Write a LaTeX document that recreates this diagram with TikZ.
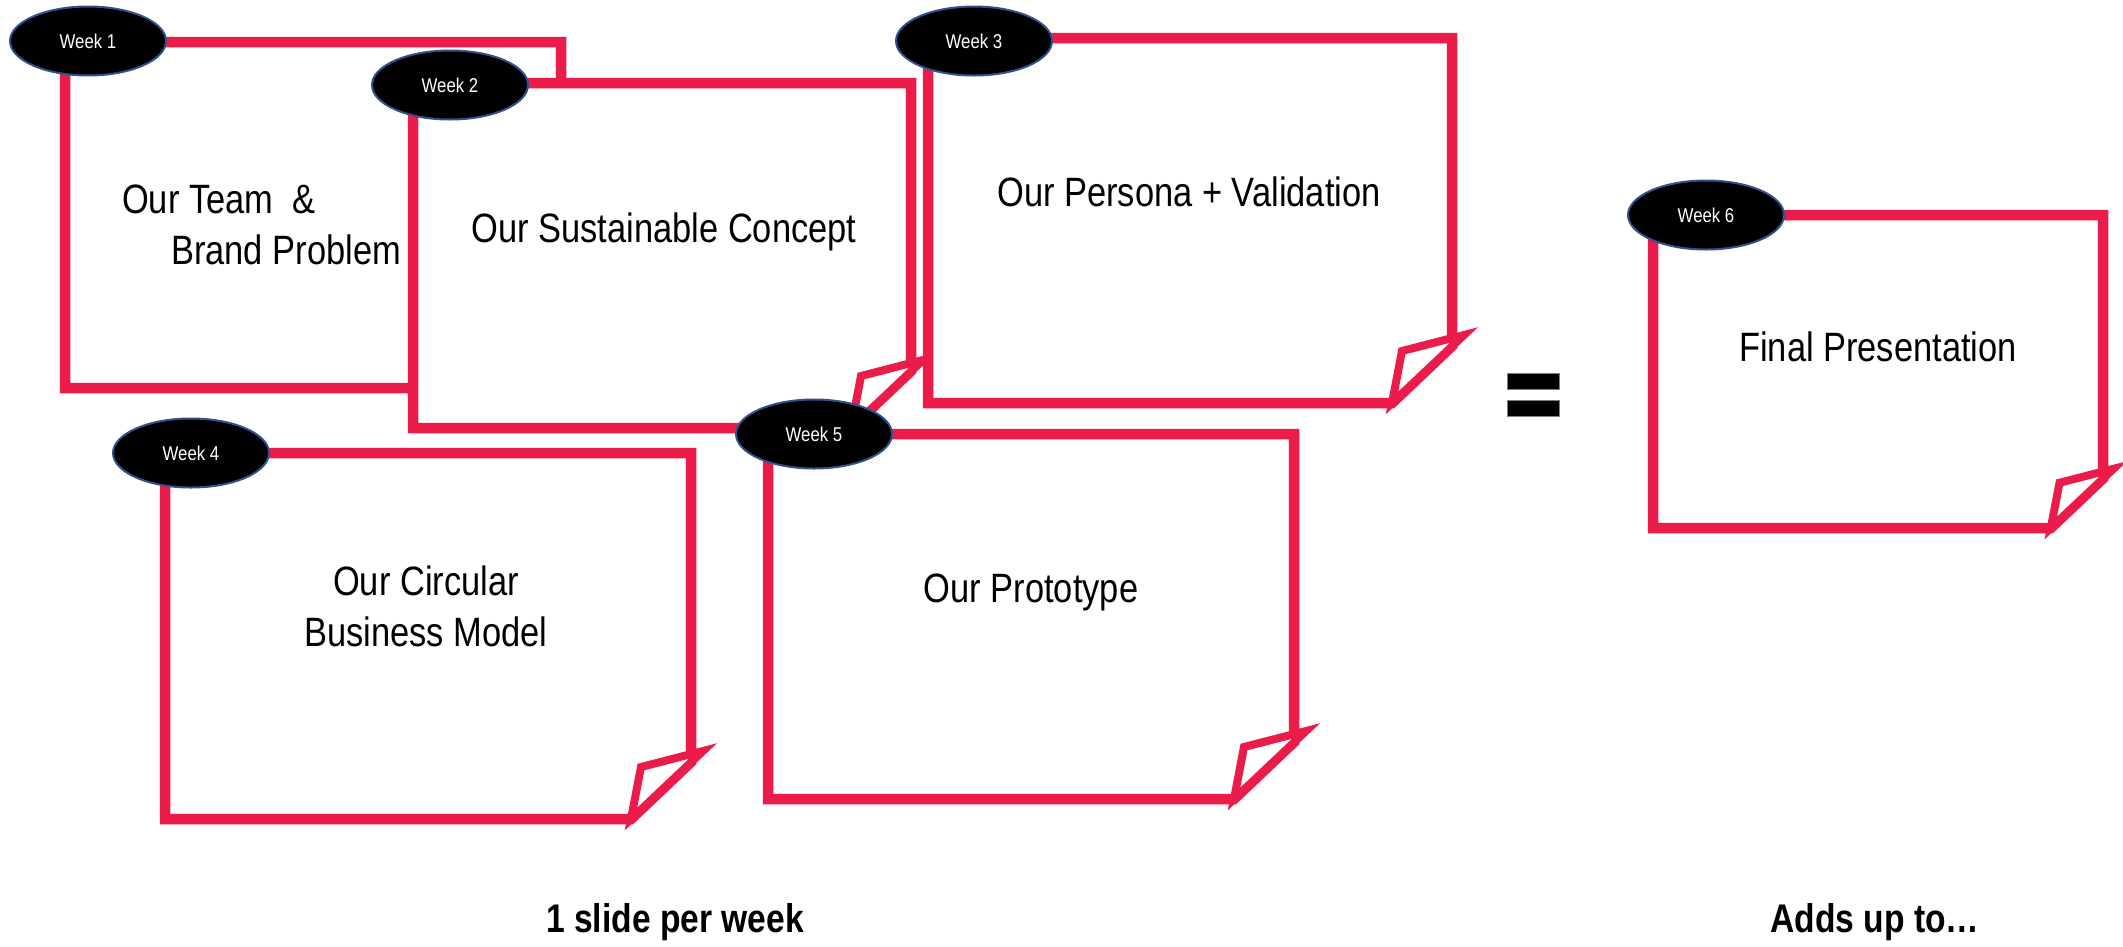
\documentclass[tikz,border=0pt]{standalone}
\usepackage{fontspec}
\setmainfont{Liberation Sans}[FakeStretch=0.84]
\usetikzlibrary{shapes.geometric}
\definecolor{pagered}{HTML}{EC1C4A}
\definecolor{ringblue}{HTML}{2F528F}
\tikzset{
  pageline/.style={draw=pagered, fill=white, line width=10.5pt, line join=miter},
  flapline/.style={draw=pagered, fill=white, line width=8pt, line join=miter},
  weektag/.style={ellipse, fill=black, draw=ringblue, line width=2pt, minimum width=156pt, minimum height=69pt, inner sep=0pt, text=white, font=\fontsize{20}{24}\selectfont},
  bodytext/.style={inner sep=0pt, font=\fontsize{41}{51}\selectfont},
  foottext/.style={inner sep=0pt, font=\bfseries\fontsize{40}{48}\selectfont},
  eqbar/.style={fill=black, draw=gray, line width=1pt}
}
% #1 left, #2 top, #3 right, #4 bottom, #5 fold scale
\newcommand\pagebox[5]{%
  \filldraw[pageline] (#1,#2) -- (#3,#2) -- (#3,{#4-57*#5}) -- ({#3-60*#5},#4) -- (#1,#4) -- cycle;
  \filldraw[flapline] ({#3-60*#5},#4) -- ({#3-50*#5},{#4-52*#5}) -- ({#3+12*#5},{#4-68*#5}) -- cycle;
}
\begin{document}
\begin{tikzpicture}[x=1pt,y=-1pt]
\useasboundingbox (0,0) rectangle (2123,946);
% Week 1
\pagebox{65}{42}{561}{388}{1}
\node[weektag] (w1) at (88,41) {Week 1};
\node[bodytext, anchor=north west, align=left] (t1) at (122,185) {Our Team\ \ \&\\\hspace*{49pt}Brand Problem};
% Week 2
\pagebox{413}{83}{911}{428}{1}
\node[weektag] (w2) at (450,85) {Week 2};
\node[bodytext, anchor=base] (t2) at (664,242) {Our Sustainable Concept};
% Week 3
\pagebox{928}{38}{1452}{403}{1}
\node[weektag] (w3) at (974,41) {Week 3};
\node[bodytext, anchor=base] (t3) at (1189,206) {Our Persona + Validation};
% Week 4
\pagebox{165}{453}{691}{819}{1}
\node[weektag] (w4) at (191,453) {Week 4};
\node[bodytext, anchor=north, align=center] (t4) at (426,566) {Our Circular\\Business Model};
% Week 5
\pagebox{768}{434}{1294}{799}{1}
\node[weektag] (w5) at (814,434) {Week 5};
\node[bodytext, anchor=base] (t5) at (1031,602) {Our Prototype};
% equals
\filldraw[eqbar] (1507,373) rectangle (1559,389);
\filldraw[eqbar] (1507,400) rectangle (1559,416);
% Week 6
\pagebox{1653}{215}{2103}{528}{0.87}
\node[weektag] (w6) at (1706,215) {Week 6};
\node[bodytext, anchor=base] (t6) at (1878,361) {Final Presentation};
% footer
\node[foottext, anchor=base] (f1) at (675,932) {1 slide per week};
\node[foottext, anchor=base] (f2) at (1875,932) {Adds up to…};
\end{tikzpicture}
\end{document}
